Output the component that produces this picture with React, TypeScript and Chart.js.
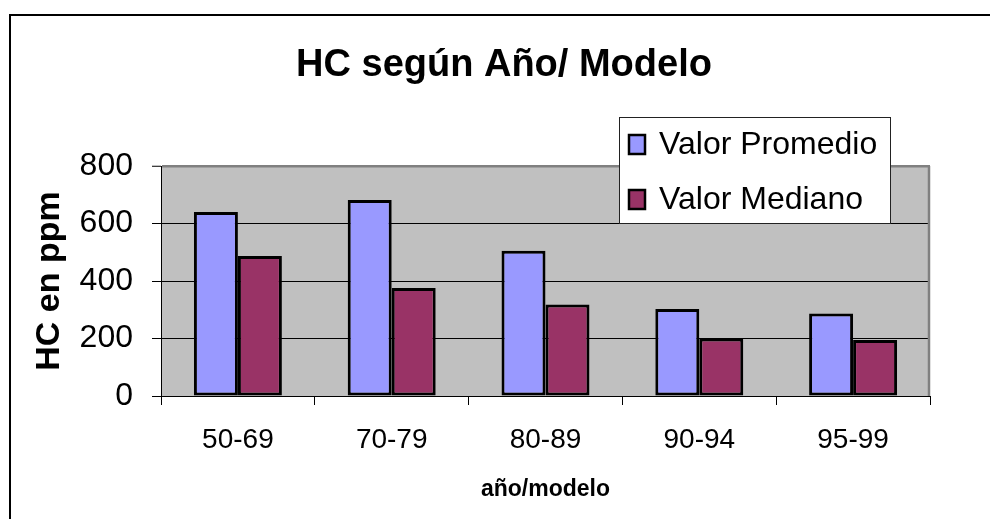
import React, { useEffect, useRef } from "react";
import { Chart, registerables } from "chart.js";

Chart.register(...registerables);

const categories = ["50-69", "70-79", "80-89", "90-94", "95-99"];
const valorPromedio = [640, 682, 505, 303, 287];
const valorMediano = [487, 376, 318, 200, 195];
const seriesNames = ["Valor Promedio", "Valor Mediano"];
const titleText = "HC según Año/ Modelo";
const yTitle = "HC en ppm";
const xTitle = "año/modelo";
const yMax = 800;
const yStep = 200;

const FONT = "'Liberation Sans', Arial, Helvetica, sans-serif";

const framePlugin = {
  id: "frame",
  beforeDraw(chart: any) {
    const { ctx, chartArea } = chart;
    ctx.save();
    ctx.fillStyle = "#ffffff";
    ctx.fillRect(0, 0, chart.width, chart.height);
    ctx.strokeStyle = "#000";
    ctx.lineWidth = 2;
    ctx.strokeRect(10, 15, 2000, 2000);
    ctx.fillStyle = "#C0C0C0";
    ctx.fillRect(chartArea.left, chartArea.top, chartArea.right - chartArea.left, chartArea.bottom - chartArea.top);
    ctx.restore();
  },
  beforeDatasetsDraw(chart: any) {
    const { ctx, chartArea } = chart;
    ctx.save();
    ctx.strokeStyle = "#808080";
    ctx.lineWidth = 2.5;
    ctx.beginPath();
    ctx.moveTo(chartArea.right - 1, chartArea.top);
    ctx.lineTo(chartArea.right - 1, chartArea.bottom);
    ctx.stroke();
    ctx.restore();
  },
  afterDraw(chart: any) {
    const { ctx } = chart;
    ctx.save();
    ctx.fillStyle = "#fff";
    ctx.fillRect(619.5, 117.5, 271, 106);
    ctx.strokeStyle = "#222";
    ctx.lineWidth = 1;
    ctx.strokeRect(619.5, 117.5, 271, 106);
    const rows = [144, 199];
    chart.data.datasets.forEach((ds: any, i: number) => {
      const cy = rows[i];
      ctx.fillStyle = ds.backgroundColor;
      ctx.fillRect(628, cy - 10, 18, 21);
      ctx.strokeStyle = "#000";
      ctx.lineWidth = 2.5;
      ctx.strokeRect(629, cy - 9, 16, 19);
      ctx.fillStyle = "#000";
      ctx.font = `32px ${FONT}`;
      ctx.textBaseline = "middle";
      ctx.textAlign = "left";
      ctx.fillText(ds.label, 659, cy + 1);
    });
    ctx.restore();
  },
};

export default function App() {
  const ref = useRef<HTMLCanvasElement | null>(null);

  useEffect(() => {
    if (!ref.current) return;
    Chart.defaults.font.family = FONT;
    const chart = new Chart(ref.current, {
      type: "bar",
      data: {
        labels: categories,
        datasets: [
          {
            label: seriesNames[0],
            data: valorPromedio,
            backgroundColor: "#9999FF",
            borderColor: "#000",
            borderWidth: 3,
            borderSkipped: false,
            categoryPercentage: 0.572,
            barPercentage: 1,
          },
          {
            label: seriesNames[1],
            data: valorMediano,
            backgroundColor: "#993366",
            borderColor: "#000",
            borderWidth: 3,
            borderSkipped: false,
            categoryPercentage: 0.572,
            barPercentage: 1,
          },
        ],
      },
      options: {
        responsive: false,
        animation: false,
        layout: { padding: { left: 78, right: 60, top: 0, bottom: 0 } },
        plugins: {
          legend: { display: false },
          tooltip: { enabled: false },
          title: {
            display: true,
            text: titleText,
            color: "#000",
            font: { size: 38, weight: "bold", family: FONT },
            padding: { top: 43, bottom: 77.4 },
          },
        },
        scales: {
          x: {
            afterFit: (s: any) => {
              s.height = 123;
            },
            grid: {
              offset: true,
              drawOnChartArea: false,
              tickLength: 9,
              color: "#000",
            },
            border: { display: true, color: "#000", width: 1 },
            ticks: { color: "#000", font: { size: 28, family: FONT }, padding: 18 },
            title: {
              display: true,
              text: xTitle,
              color: "#000",
              font: { size: 23, weight: "bold", family: FONT },
              padding: { top: 0, bottom: 16 },
            },
          },
          y: {
            min: 0,
            max: yMax,
            afterFit: (s: any) => {
              s.width = 83;
            },
            grid: {
              tickLength: 9,
              color: (c: any) => (c.tick && c.tick.value === yMax ? "#808080" : "#000"),
              lineWidth: (c: any) => (c.tick && c.tick.value === yMax ? 2.5 : 1),
              tickColor: "#000",
              tickWidth: 1,
            },
            border: { display: true, color: "#000", width: 1 },
            ticks: { stepSize: yStep, color: "#000", font: { size: 32, family: FONT }, padding: 19 },
            title: {
              display: true,
              text: yTitle,
              color: "#000",
              font: { size: 34, weight: "bold", family: FONT },
              padding: { top: -49, bottom: 0 },
            },
          },
        },
      },
      plugins: [framePlugin],
    } as any);
    return () => chart.destroy();
  }, []);

  return (
    <div style={{ position: "absolute", left: 0, top: 0, width: 990, height: 519 }}>
      <canvas ref={ref} width={990} height={519} style={{ display: "block" }} />
    </div>
  );
}
